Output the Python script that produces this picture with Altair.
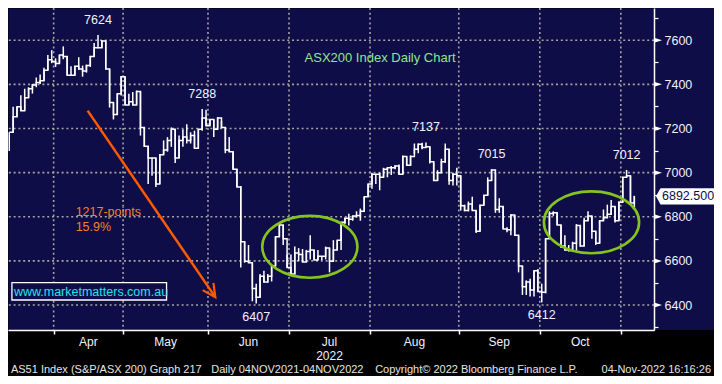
import math
import altair as alt
import pandas as pd

# ------------------------------------------------------------------ data
# one entry per trading day (bar index 0 = mid March 2022, last = 4 Nov 2022)
closes = [
    7183, 7253, 7299, 7281, 7339, 7380, 7397, 7409, 7416, 7464,
    7511, 7504, 7494, 7533, 7526, 7441, 7441, 7482, 7470, 7460,
    7485, 7526, 7566, 7566, 7596, 7470, 7318, 7263, 7358, 7435,
    7307, 7321, 7307, 7368, 7205, 7120, 7066, 7066, 6949, 7081,
    7103, 7146, 7197, 7066, 7146, 7161, 7146, 7168, 7110, 7197,
    7248, 7212, 7241, 7197, 7248, 7205, 7103, 7095, 7015, 6935,
    6687, 6599, 6592, 6475, 6435, 6531, 6505, 6531, 6577, 6709,
    6763, 6701, 6570, 6541, 6636, 6629, 6595, 6643, 6650, 6604,
    6621, 6621, 6658, 6599, 6650, 6694, 6775, 6793, 6789, 6804,
    6806, 6825, 6891, 6949, 6993, 6993, 6979, 7015, 7022, 7022,
    7030, 6993, 7073, 7033, 7073, 7106, 7129, 7114, 7117, 7049,
    6964, 7000, 7049, 7106, 6964, 6993, 6986, 6850, 6828, 6858,
    6828, 6735, 6852, 6898, 6964, 7012, 6833, 6847, 6745, 6741,
    6808, 6716, 6577, 6483, 6505, 6468, 6556, 6461, 6458, 6701,
    6815, 6818, 6763, 6668, 6650, 6647, 6680, 6760, 6668, 6782,
    6804, 6734, 6680, 6782, 6796, 6811, 6847, 6782, 6866, 6979,
    6986, 6862, 6892.5,
]
highs = [
    7183, 7299, 7299, 7351, 7380, 7387, 7402, 7431, 7445, 7475,
    7533, 7555, 7518, 7533, 7572, 7529, 7482, 7482, 7523, 7485,
    7489, 7529, 7587, 7624, 7599, 7596, 7470, 7318, 7358, 7438,
    7435, 7358, 7365, 7372, 7368, 7205, 7120, 7066, 7066, 7081,
    7146, 7161, 7205, 7197, 7168, 7197, 7219, 7183, 7190, 7197,
    7288, 7285, 7241, 7241, 7251, 7234, 7205, 7161, 7095, 7015,
    6940, 6687, 6672, 6592, 6497, 6541, 6556, 6541, 6577, 6709,
    6767, 6763, 6629, 6629, 6665, 6658, 6654, 6650, 6716, 6650,
    6650, 6621, 6665, 6658, 6694, 6694, 6775, 6796, 6814, 6804,
    6825, 6837, 6891, 6949, 7000, 6993, 7000, 7022, 7022, 7030,
    7033, 7037, 7078, 7073, 7078, 7132, 7132, 7135, 7137, 7117,
    7049, 7011, 7063, 7132, 7106, 7000, 7022, 6986, 6855, 6869,
    6891, 6828, 6855, 6898, 6979, 7015, 7000, 6884, 6847, 6752,
    6811, 6808, 6716, 6577, 6512, 6519, 6556, 6563, 6497, 6701,
    6825, 6825, 6818, 6763, 6716, 6672, 6687, 6767, 6760, 6796,
    6825, 6804, 6734, 6782, 6833, 6855, 6876, 6847, 6869, 6979,
    7012, 6986, 6895,
]
lows = [
    7098, 7183, 7253, 7281, 7281, 7339, 7358, 7387, 7402, 7416,
    7464, 7496, 7479, 7494, 7514, 7441, 7438, 7441, 7467, 7435,
    7453, 7479, 7526, 7564, 7566, 7470, 7295, 7241, 7263, 7350,
    7307, 7307, 7307, 7307, 7168, 7117, 6949, 6986, 6935, 6949,
    7081, 7095, 7117, 7044, 7066, 7117, 7132, 7132, 7110, 7110,
    7190, 7212, 7212, 7161, 7197, 7202, 7088, 7095, 7015, 6935,
    6570, 6592, 6592, 6417, 6407, 6435, 6502, 6502, 6507, 6577,
    6709, 6672, 6570, 6537, 6541, 6599, 6595, 6595, 6607, 6604,
    6604, 6604, 6607, 6548, 6599, 6650, 6650, 6767, 6760, 6782,
    6796, 6782, 6825, 6891, 6927, 6949, 6920, 6979, 6979, 6989,
    7015, 6993, 6993, 7033, 7033, 7085, 7088, 7106, 7114, 7041,
    6964, 6964, 7000, 7044, 6945, 6942, 6942, 6828, 6825, 6825,
    6828, 6726, 6735, 6852, 6898, 6964, 6818, 6818, 6745, 6730,
    6716, 6716, 6548, 6446, 6446, 6439, 6439, 6461, 6412, 6453,
    6701, 6804, 6763, 6658, 6648, 6643, 6643, 6647, 6665, 6668,
    6782, 6701, 6672, 6680, 6782, 6796, 6811, 6774, 6782, 6866,
    6979, 6855, 6833,
]

month_names = ["Apr", "May", "Jun", "Jul", "Aug", "Sep", "Oct"]
month_edges = [11.5, 29.5, 51.5, 72.5, 93.5, 116.5, 137.5, 158.5]  # bar-index boundaries
year_label = "2022"
price_ticks = [6300, 6400, 6500, 6600, 6700, 6800, 6900, 7000,
               7100, 7200, 7300, 7400, 7500, 7600, 7700]
price_grid = [6400, 6600, 6800, 7000, 7200, 7400, 7600]

extreme_bars = [23, 50, 64, 108, 125, 138, 160]
extreme_kind = ["high", "high", "low", "high", "high", "low", "high"]

arrow_bars = [20.3, 53.4]
arrow_levels = [7281, 6436]
drop_lines = ["1217-points", "15.9%"]
drop_bar = 17.2
drop_levels = [6821, 6755]
chart_title = "ASX200 Index Daily Chart"
title_bar = 96.1
title_level = 7521
ellipse_bars = [77.9, 150.9]
ellipse_levels = [6664, 6775]
watermark = "www.marketmatters.com.au"
footer_texts = ["AS51 Index (S&P/ASX 200) Graph 217",
                "Daily 04NOV2021-04NOV2022",
                "Copyright\u00a9 2022 Bloomberg Finance L.P.",
                "04-Nov-2022 16:16:26"]

# ------------------------------------------------------------------ layout / style
W, H = 646, 322
RIGHT, BOTTOM = 60, 46
SX, SY = W / 658.0, H / 333.0
X_DOMAIN = [-0.33, 167.1]
Y_DOMAIN = [6287, 7746]
FONT = "Liberation Sans"
NAVY = "#0f0d47"
GRID = "#a4a4a4"
GREEN = "#84c41c"
ORANGE_LINE = "#ff5a00"
ORANGE_TEXT = "#f0822d"
TITLE_GREEN = "#8fe58f"
CYAN = "#28e2f0"
LABEL = "#eef2ff"

df = pd.DataFrame({"idx": list(range(len(closes))), "close": closes,
                   "high": highs, "low": lows})

xscale = alt.Scale(domain=X_DOMAIN, nice=False, zero=False)
yscale = alt.Scale(domain=Y_DOMAIN, nice=False, zero=False)
xaxis = alt.Axis(title=None, values=month_edges, labels=False, grid=False,
                 tickSize=4, tickColor="white", tickWidth=1.5,
                 domainColor="white", domainWidth=1.5, zindex=1)
yaxis = alt.Axis(title=None, orient="right", values=price_ticks, format="d",
                 labelExpr="datum.value % 200 == 0 ? datum.label : ''",
                 labelOverlap=False, grid=False, tickSize=4, tickColor="white",
                 tickWidth=1.2, domainColor="white", domainWidth=1.5,
                 labelColor=LABEL, labelFont=FONT, labelFontSize=12.5,
                 labelPadding=6, zindex=1)


def X(f):
    return alt.X(f, type="quantitative", scale=xscale, axis=xaxis)


def Y(f):
    return alt.Y(f, type="quantitative", scale=yscale, axis=yaxis)


def px(b):
    return (b - X_DOMAIN[0]) / (X_DOMAIN[1] - X_DOMAIN[0]) * W


def py(v):
    return (Y_DOMAIN[1] - v) / (Y_DOMAIN[1] - Y_DOMAIN[0]) * H


one = pd.DataFrame({"k": [0]})

right_panel = alt.Chart(one).mark_rect(color=NAVY).encode(
    x=alt.value(W), x2=alt.value(W + RIGHT), y=alt.value(0), y2=alt.value(H))

vgrid = alt.Chart(pd.DataFrame({"edge": month_edges})).mark_rule(
    color=GRID, strokeWidth=1.6, strokeDash=[2, 2.8]).encode(x=X("edge"))
hgrid = alt.Chart(pd.DataFrame({"lvl": price_grid})).mark_rule(
    color=GRID, strokeWidth=1.6, strokeDash=[2, 2.8]).encode(y=Y("lvl"))

bars = alt.Chart(df).mark_rule(color="white", strokeWidth=1.5).encode(
    x=X("idx"), y=Y("low"), y2=alt.Y2("high"))
close_line = alt.Chart(df).mark_line(
    interpolate="step-after", color="white", strokeWidth=1.5).encode(
    x=X("idx"), y=Y("close"))

# ellipses
rx_px, ry_px = 48.5 * SX, 32.0 * SY
r = ry_px / rx_px
k = 0.5523
ell_path = (f"M 1 0 C 1 {k*r:.4f} {k:.4f} {r:.4f} 0 {r:.4f} "
            f"C {-k:.4f} {r:.4f} -1 {k*r:.4f} -1 0 "
            f"C -1 {-k*r:.4f} {-k:.4f} {-r:.4f} 0 {-r:.4f} "
            f"C {k:.4f} {-r:.4f} 1 {-k*r:.4f} 1 0 Z")
ellipses = alt.Chart(pd.DataFrame({"b": ellipse_bars, "v": ellipse_levels})).mark_point(
    shape=ell_path, size=(2 * rx_px) ** 2, filled=False, color=GREEN,
    strokeWidth=2.6, opacity=1).encode(x=X("b"), y=Y("v"))

# arrow
arrow_df = pd.DataFrame({"b0": [arrow_bars[0]], "v0": [arrow_levels[0]],
                         "b1": [arrow_bars[1]], "v1": [arrow_levels[1]]})
arrow = alt.Chart(arrow_df).mark_rule(color=ORANGE_LINE, strokeWidth=2.5).encode(
    x=X("b0"), y=Y("v0"), x2=alt.X2("b1"), y2=alt.Y2("v1"))
ang = math.degrees(math.atan2(py(arrow_levels[1]) - py(arrow_levels[0]),
                              px(arrow_bars[1]) - px(arrow_bars[0]))) % 360
head = alt.Chart(pd.DataFrame({"b": [arrow_bars[1]], "v": [arrow_levels[1]]})).mark_point(
    shape="M -0.89 -0.45 L 0 0 L -0.89 0.45", size=(2 * 14.5) ** 2, filled=False,
    color=ORANGE_LINE, strokeWidth=2.2, angle=ang, opacity=1).encode(x=X("b"), y=Y("v"))

# texts in data space
title = alt.Chart(pd.DataFrame({"t": [chart_title], "b": [title_bar], "v": [title_level]})).mark_text(
    color=TITLE_GREEN, font=FONT, fontSize=13, baseline="middle").encode(
    x=X("b"), y=Y("v"), text="t")
drop = alt.Chart(pd.DataFrame({"t": drop_lines, "b": [drop_bar] * 2, "v": drop_levels})).mark_text(
    color=ORANGE_TEXT, font=FONT, fontSize=12.5, align="left", baseline="middle").encode(
    x=X("b"), y=Y("v"), text="t")

ext = pd.DataFrame({"b": extreme_bars, "kind": extreme_kind})
ext["v"] = [highs[b] if kd == "high" else lows[b] for b, kd in zip(extreme_bars, extreme_kind)]
ext["label"] = [str(int(round(v))) for v in ext["v"]]
ext_hi = alt.Chart(ext[ext["kind"] == "high"]).mark_text(
    color=LABEL, font=FONT, fontSize=12.5, baseline="middle", dy=-15).encode(
    x=X("b"), y=Y("v"), text="label")
ext_lo = alt.Chart(ext[ext["kind"] == "low"]).mark_text(
    color=LABEL, font=FONT, fontSize=12.5, baseline="middle", dy=13).encode(
    x=X("b"), y=Y("v"), text="label")

# watermark box
wm_box = alt.Chart(one).mark_rect(fill=NAVY, stroke="white", strokeWidth=1.3).encode(
    x=alt.value(4 * SX), x2=alt.value(161.5 * SX), y=alt.value(284 * SY), y2=alt.value(302 * SY))
wm_text = alt.Chart(pd.DataFrame({"t": [watermark]})).mark_text(
    color=CYAN, font=FONT, fontSize=12.5, align="left", baseline="middle").encode(
    x=alt.value(6 * SX), y=alt.value(293.5 * SY), text="t")

# last price tag
last = df.tail(1)
tag_u = 8.5 * SY
tag = alt.Chart(last).mark_point(
    shape="M 0 0 L 0.55 -1 L 8 -1 L 8 1 L 0.55 1 Z", size=(2 * tag_u) ** 2,
    filled=True, color="white", opacity=1).encode(x=alt.value(W + 2), y=Y("close"))
tag_text = alt.Chart(last).mark_text(
    color=NAVY, font=FONT, fontSize=12.5, align="left", baseline="middle").encode(
    x=alt.value(W + 8), y=Y("close"), text=alt.Text("close:Q", format=".3f"))

# arrowheads at major axis ticks
tri = alt.Chart(pd.DataFrame({"lvl": price_grid})).mark_point(
    shape="M 0 -0.5 L 1.6 0 L 0 0.5 Z", size=100, filled=True, color="white",
    opacity=1).encode(x=alt.value(W), y=Y("lvl"))

# month labels
mids = [(a + b) / 2 for a, b in zip(month_edges[:-1], month_edges[1:])]
months = alt.Chart(pd.DataFrame({"m": month_names, "mid": mids})).mark_text(
    color=LABEL, font=FONT, fontSize=12, baseline="middle").encode(
    x=X("mid"), y=alt.value(H + 12), text="m")
year = alt.Chart(pd.DataFrame({"y": [year_label], "mid": [mids[3]]})).mark_text(
    color=LABEL, font=FONT, fontSize=12, baseline="middle").encode(
    x=X("mid"), y=alt.value(H + 25.5), text="y")

footer_x = [3 * SX, 207 * SX, 374 * SX]
footer_layers = []
for t, fx in zip(footer_texts[:3], footer_x):
    footer_layers.append(alt.Chart(pd.DataFrame({"t": [t]})).mark_text(
        color="#e6e6e6", font=FONT, fontSize=11, align="left", baseline="middle").encode(
        x=alt.value(fx), y=alt.value(H + 39.5), text="t"))
footer_layers.append(alt.Chart(pd.DataFrame({"t": [footer_texts[3]]})).mark_text(
    color="#e6e6e6", font=FONT, fontSize=11, align="right", baseline="middle").encode(
    x=alt.value(W + RIGHT - 3), y=alt.value(H + 39.5), text="t"))

chart = alt.layer(
    right_panel, vgrid, hgrid, bars, close_line, ellipses, arrow, head,
    title, drop, ext_hi, ext_lo, wm_box, wm_text, tag, tag_text, tri,
    months, year, *footer_layers,
).properties(
    width=W, height=H, background="black",
    padding={"left": 0, "top": 0, "right": RIGHT, "bottom": BOTTOM},
    autosize=alt.AutoSizeParams(type="none"),
).configure_view(fill=NAVY, stroke="transparent")

chart.save("out.html", embed_options={"renderer": "svg", "actions": False})
